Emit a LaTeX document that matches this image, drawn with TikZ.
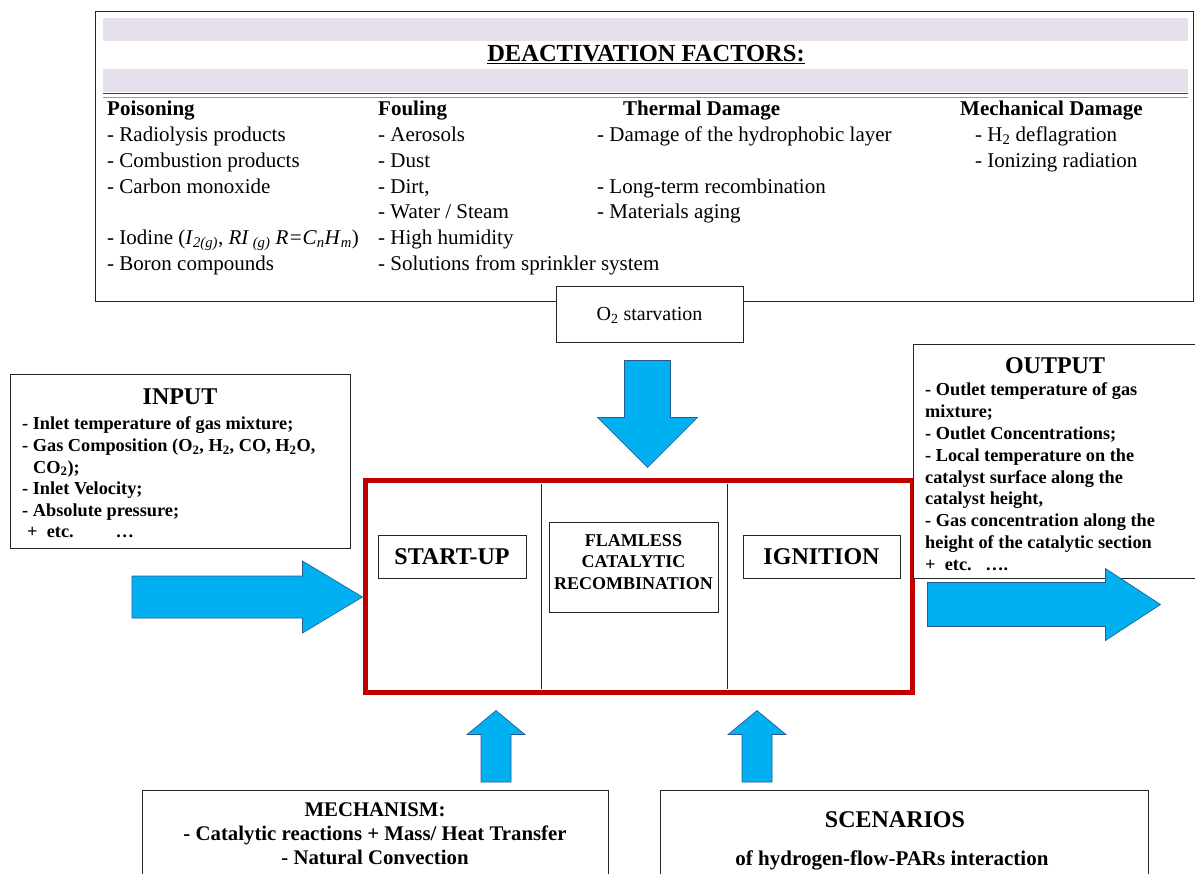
\documentclass[tikz,border=0pt]{standalone}
\usepackage{fontspec}
\setmainfont{Liberation Serif}
\usetikzlibrary{calc}

\definecolor{flowblue}{RGB}{0,176,240}
\definecolor{flowedge}{RGB}{40,90,140}
\definecolor{bandlilac}{RGB}{229,224,236}
\definecolor{parred}{RGB}{192,0,0}

% fat block arrow: tail, tip, shaft half width, head half width, head length
\newcommand{\blockarrow}[5]{%
    \coordinate (ba-neck) at ($(#2)!#5!(#1)$);
    \filldraw[flowarrow] ($(#1)!#3!90:(#2)$) -- ($(ba-neck)!#3!90:(#2)$) -- ($(ba-neck)!#4!90:(#2)$) -- (#2) -- ($(ba-neck)!#4!-90:(#2)$) -- ($(ba-neck)!#3!-90:(#2)$) -- ($(#1)!#3!-90:(#2)$) -- cycle;
}

\begin{document}
\begin{tikzpicture}[x=1pt,y=-1pt,
    frame/.style={draw=black!85, line width=1pt, fill=white, inner sep=0pt},
    flowarrow/.style={fill=flowblue, draw=flowedge, line width=0.6pt},
    topitem/.style={anchor=base west, inner sep=0pt, font=\fontsize{21}{25}\selectfont},
    tophead/.style={topitem, font=\fontsize{21}{25}\selectfont\bfseries},
    sideitem/.style={anchor=base west, inner sep=0pt, font=\fontsize{18.3}{21}\selectfont\bfseries},
    sidehead/.style={anchor=base, inner sep=0pt, font=\fontsize{24}{28}\selectfont\bfseries},
    stagebox/.style={draw=black!85, line width=0.9pt, fill=white, inner sep=0pt, font=\fontsize{24}{28}\selectfont\bfseries}]

    \clip (0,0) rectangle (1195,874);

    % Deactivation factors panel
    \node[frame, minimum width=1098pt, minimum height=290pt] (deact) at (644,157) {};
    \fill[bandlilac] (103,18) rectangle (1188,41);
    \fill[bandlilac] (103,69) rectangle (1188,92);
    \draw[line width=1.4pt, black!75] (103,93.5) -- (1188,93.5);
    \draw[black!40] (103,97) -- (1188,97);
    \node[font=\fontsize{24.5}{28}\selectfont\bfseries] (deacttitle) at (646,55) {\underline{DEACTIVATION FACTORS:}};

    % Poisoning
    \node[tophead] (poihead) at (107,116) {Poisoning};
    \foreach \r/\txt in {1/{- Radiolysis products}, 2/{- Combustion products}, 3/{- Carbon monoxide},
        5/{- Iodine (\textit{I}\textsubscript{\textit{2(g)}}, \textit{RI}\,\textsubscript{\textit{(g)}} \textit{R=C}\textsubscript{\textit{n}}\textit{H}\textsubscript{\textit{m}})},
        6/{- Boron compounds}}
        \node[topitem] (poi\r) at (107,116+25.7*\r) {\txt};

    % Fouling
    \node[tophead] (fouhead) at (378,116) {Fouling};
    \foreach \r/\txt in {1/{- Aerosols}, 2/{- Dust}, 3/{- Dirt,}, 4/{- Water / Steam}, 5/{- High humidity}, 6/{- Solutions from sprinkler system}}
        \node[topitem] (fou\r) at (378,116+25.7*\r) {\txt};

    % Thermal damage
    \node[tophead] (thehead) at (623,116) {Thermal Damage};
    \foreach \r/\txt in {1/{- Damage of the hydrophobic layer}, 3/{- Long-term recombination}, 4/{- Materials aging}}
        \node[topitem] (the\r) at (597,116+25.7*\r) {\txt};

    % Mechanical damage
    \node[tophead] (mechead) at (960,116) {Mechanical Damage};
    \foreach \r/\txt in {1/{- H\textsubscript{2} deflagration}, 2/{- Ionizing radiation}}
        \node[topitem] (mec\r) at (975,116+25.7*\r) {\txt};

    % O2 starvation
    \node[frame, minimum width=187pt, minimum height=56pt, font=\fontsize{20}{24}\selectfont] (o2) at (649.5,315) {O\textsubscript{2} starvation};

    % Input
    \node[frame, minimum width=340pt, minimum height=174pt] (inbox) at (180,462) {};
    \node[sidehead] (intitle) at (180,405) {INPUT};
    \foreach \r/\xx/\txt in {0/22/{- Inlet temperature of gas mixture;},
        1/22/{- Gas Composition (O\textsubscript{2}, H\textsubscript{2}, CO, H\textsubscript{2}O,},
        2/33/{CO\textsubscript{2});}, 3/22/{- Inlet Velocity;}, 4/22/{- Absolute pressure;},
        5/27/{+ \ etc.\hspace{42pt}\ldots}}
        \node[sideitem] (in\r) at (\xx,430+21.6*\r) {\txt};

    % Recombiner stages
    \node[draw=parred, line width=5pt, minimum width=547pt, minimum height=211pt] (redbox) at (638.5,586.5) {};
    \draw[black!85, line width=0.9pt] (541,484) -- (541,689);
    \draw[black!85, line width=0.9pt] (727,484) -- (727,689);
    \node[stagebox, minimum width=148pt, minimum height=43pt] (startup) at (452,556.5) {START-UP};
    \node[stagebox, minimum width=169pt, minimum height=90pt] (flamless) at (633.5,567) {};
    \node[align=center, inner sep=0pt, font=\fontsize{18}{21.5}\selectfont\bfseries] (flamtext) at (633.5,562) {FLAMLESS\\CATALYTIC\\RECOMBINATION};
    \node[stagebox, minimum width=157pt, minimum height=43pt] (ignition) at (821.5,556.5) {IGNITION};

    % Output
    \node[frame, minimum width=290pt, minimum height=233pt] (outbox) at (1058,461.5) {};
    \node[sidehead] (outtitle) at (1055,374) {OUTPUT};
    \foreach \r/\txt in {0/{- Outlet temperature of gas}, 1/{mixture;}, 2/{- Outlet Concentrations;},
        3/{- Local temperature on the}, 4/{catalyst surface along the}, 5/{catalyst height,},
        6/{- Gas concentration along the}, 7/{height of the catalytic section}, 8/{+ \ etc.\ \ \ \ldots.}}
        \node[sideitem] (out\r) at (925,396+21.8*\r) {\txt};

    % Mechanism and scenarios
    \node[frame, minimum width=466pt, minimum height=120pt] (mech) at (375,850) {};
    \node[align=center, inner sep=0pt, font=\fontsize{20.8}{24}\selectfont\bfseries] (mechtext) at (375,834) {MECHANISM:\\- Catalytic reactions + Mass/ Heat Transfer\\- Natural Convection};
    \node[frame, minimum width=488pt, minimum height=120pt] (scen) at (904,850) {};
    \node[font=\fontsize{24}{28}\selectfont\bfseries] (scentitle) at (895,820) {SCENARIOS};
    \node[font=\fontsize{21}{25}\selectfont\bfseries] (scensub) at (892,860) {of hydrogen-flow-PARs interaction};

    % Block arrows
    \coordinate (inTail) at (132,597);
    \coordinate (inTip) at (inTail -| redbox.west);
    \blockarrow{inTail}{inTip}{21pt}{36pt}{60pt}

    \coordinate (dnTail) at ($(o2.south)+(-2,17)$);
    \coordinate (dnTip) at ($(dnTail |- redbox.north)+(0,-11)$);
    \blockarrow{dnTail}{dnTip}{23pt}{50pt}{50pt}

    \coordinate (outTail) at ($(redbox.east)+(13,18)$);
    \coordinate (outTip) at ($(outTail)+(233,0)$);
    \blockarrow{outTail}{outTip}{22pt}{36pt}{55pt}

    \coordinate (upTailA) at (496,782);
    \coordinate (upTipA) at ($(upTailA |- redbox.south)+(0,16)$);
    \blockarrow{upTailA}{upTipA}{15pt}{29pt}{24pt}

    \coordinate (upTailB) at (757,782);
    \coordinate (upTipB) at ($(upTailB |- redbox.south)+(0,16)$);
    \blockarrow{upTailB}{upTipB}{15pt}{29pt}{24pt}
\end{tikzpicture}
\end{document}
